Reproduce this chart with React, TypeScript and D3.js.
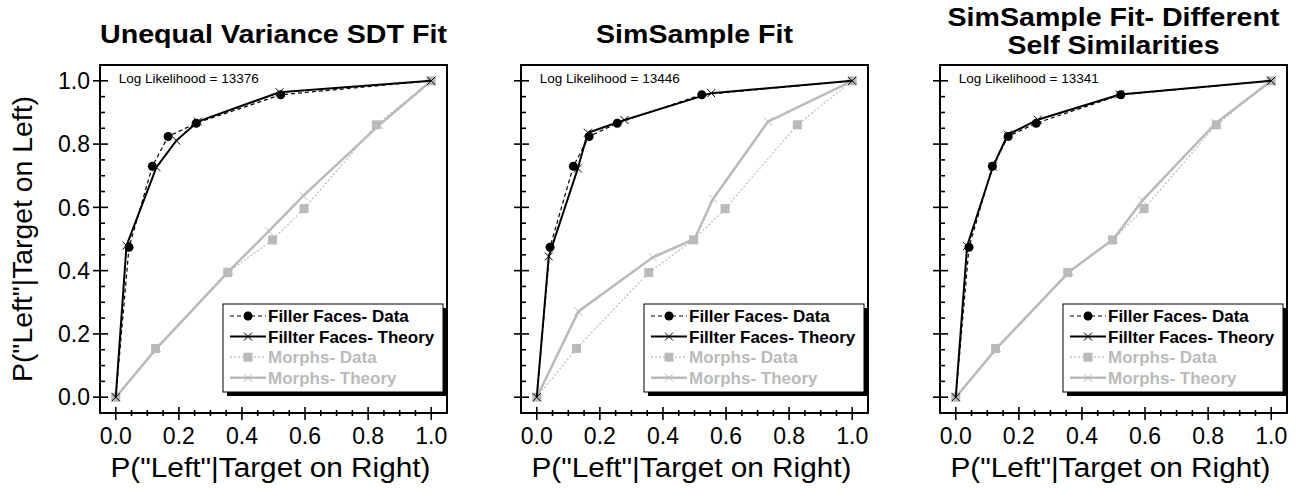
import React, { useEffect, useRef } from "react";
import * as d3 from "d3";

// observed data (same in every panel)
const fillerDataX = [0, 0.042, 0.116, 0.166, 0.255, 0.523, 1];
const fillerDataY = [0, 0.474, 0.73, 0.824, 0.866, 0.956, 1];
const morphDataX = [0, 0.126, 0.355, 0.497, 0.597, 0.826, 1];
const morphDataY = [0, 0.154, 0.394, 0.497, 0.596, 0.861, 1];

// model predictions, one set per panel
const uvFillerX = [0, 0.034, 0.129, 0.192, 0.26, 0.519, 1];
const uvFillerY = [0, 0.479, 0.727, 0.811, 0.871, 0.964, 1];
const uvMorphX = [0, 0.13, 0.36, 0.485, 0.595, 0.835, 1];
const uvMorphY = [0, 0.155, 0.4, 0.525, 0.637, 0.86, 1];

const ssFillerX = [0, 0.038, 0.13, 0.162, 0.278, 0.553, 1];
const ssFillerY = [0, 0.445, 0.723, 0.836, 0.876, 0.961, 1];
const ssMorphX = [0, 0.132, 0.368, 0.5, 0.559, 0.733, 1];
const ssMorphY = [0, 0.271, 0.442, 0.5, 0.627, 0.871, 1];

const sdFillerX = [0, 0.036, 0.118, 0.165, 0.26, 0.52, 1];
const sdFillerY = [0, 0.478, 0.729, 0.83, 0.877, 0.957, 1];
const sdMorphX = [0, 0.13, 0.36, 0.5, 0.592, 0.825, 1];
const sdMorphY = [0, 0.155, 0.397, 0.5, 0.622, 0.867, 1];

const titles = [["Unequal Variance SDT Fit"], ["SimSample Fit"], ["SimSample Fit- Different", "Self Similarities"]];
const logLik = [13376, 13446, 13341];
const legendLabels = ["Filler Faces- Data", "Fillter Faces- Theory", "Morphs- Data", "Morphs- Theory"];
const majorTicks = [0, 0.2, 0.4, 0.6, 0.8, 1.0];

const GRAY = "#bababa";
const FONT = "'Liberation Sans', Arial, Helvetica, sans-serif";

type Pt = [number, number];
const zip = (xs: number[], ys: number[]): Pt[] => xs.map((x, i) => [x, ys[i]]);

export default function App() {
  const ref = useRef<SVGSVGElement>(null);

  useEffect(() => {
    const svg = d3.select(ref.current);
    svg.selectAll("*").remove();

    const W = 347, H = 348, top = 65;
    const panels = [
      { left: 100, filler: zip(uvFillerX, uvFillerY), morph: zip(uvMorphX, uvMorphY), yLabels: true },
      { left: 521, filler: zip(ssFillerX, ssFillerY), morph: zip(ssMorphX, ssMorphY), yLabels: false },
      { left: 940, filler: zip(sdFillerX, sdFillerY), morph: zip(sdMorphX, sdMorphY), yLabels: false },
    ];
    const minor = d3.range(0, 1.0001, 0.05);

    const cross = "M-4,-4L4,4M-4,4L4,-4";

    panels.forEach((p, pi) => {
      const x = d3.scaleLinear().domain([-0.05, 1.05]).range([p.left, p.left + W]);
      const y = d3.scaleLinear().domain([-0.05, 1.05]).range([top + H, top]);
      const g = svg.append("g");
      const line = d3.line<Pt>().x(d => x(d[0])).y(d => y(d[1]));

      // title
      const t = titles[pi];
      const cx = p.left + W / 2;
      if (t.length === 1) {
        g.append("text").attr("x", cx).attr("y", 43).attr("text-anchor", "middle")
          .attr("font-family", FONT).attr("font-weight", "bold").attr("font-size", 26)
          .attr("textLength", pi === 0 ? 347 : 197).attr("lengthAdjust", "spacingAndGlyphs").text(t[0]);
      } else {
        g.append("text").attr("x", cx).attr("y", 26).attr("text-anchor", "middle")
          .attr("font-family", FONT).attr("font-weight", "bold").attr("font-size", 26)
          .attr("textLength", 332).attr("lengthAdjust", "spacingAndGlyphs").text(t[0]);
        g.append("text").attr("x", cx).attr("y", 54).attr("text-anchor", "middle")
          .attr("font-family", FONT).attr("font-weight", "bold").attr("font-size", 26)
          .attr("textLength", 212).attr("lengthAdjust", "spacingAndGlyphs").text(t[1]);
      }

      // frame
      g.append("rect").attr("x", p.left).attr("y", top).attr("width", W).attr("height", H)
        .attr("fill", "none").attr("stroke", "#000").attr("stroke-width", 2);

      // ticks
      minor.forEach(v => {
        const isMajor = majorTicks.some(m => Math.abs(m - v) < 1e-6);
        g.append("line").attr("x1", x(v)).attr("x2", x(v))
          .attr("y1", top + H - (isMajor ? 6 : 3)).attr("y2", top + H + (isMajor ? 7 : 3))
          .attr("stroke", "#000").attr("stroke-width", 1.6);
        g.append("line").attr("y1", y(v)).attr("y2", y(v))
          .attr("x1", p.left - (isMajor ? 7 : 0)).attr("x2", p.left + (isMajor ? 8 : 5))
          .attr("stroke", "#000").attr("stroke-width", 1.6);
      });
      majorTicks.forEach(v => {
        g.append("text").attr("x", x(v)).attr("y", top + H + 31).attr("text-anchor", "middle")
          .attr("font-family", FONT).attr("font-size", 23).text(v.toFixed(1));
        if (p.yLabels) {
          g.append("text").attr("x", p.left - 10).attr("y", y(v)).attr("dy", "0.36em")
            .attr("text-anchor", "end").attr("font-family", FONT).attr("font-size", 23).text(v.toFixed(1));
        }
      });

      // axis titles
      g.append("text").attr("x", cx - 3).attr("y", 477).attr("text-anchor", "middle")
        .attr("font-family", FONT).attr("font-size", 27)
        .attr("textLength", 320).attr("lengthAdjust", "spacingAndGlyphs")
        .text('P("Left"|Target on Right)');
      if (p.yLabels) {
        g.append("text").attr("transform", `translate(32,${top + H / 2}) rotate(-90)`)
          .attr("text-anchor", "middle").attr("font-family", FONT).attr("font-size", 27)
          .attr("textLength", 286).attr("lengthAdjust", "spacingAndGlyphs")
          .text('P("Left"|Target on Left)');
      }

      g.append("text").attr("x", x(0) + 3).attr("y", 83).attr("font-family", FONT).attr("font-size", 13.5)
        .text(`Log Likelihood = ${logLik[pi]}`);

      // morphs
      g.append("path").attr("d", line(p.morph)).attr("fill", "none").attr("stroke", GRAY).attr("stroke-width", 2.5);
      g.selectAll(".mx").data(p.morph).enter().append("path")
        .attr("transform", d => `translate(${x(d[0])},${y(d[1])})`).attr("d", cross)
        .attr("stroke", GRAY).attr("stroke-width", 1);
      const md = zip(morphDataX, morphDataY);
      g.append("path").attr("d", line(md)).attr("fill", "none").attr("stroke", GRAY)
        .attr("stroke-width", 1.2).attr("stroke-dasharray", "2,2");
      g.selectAll(".ms").data(md).enter().append("rect")
        .attr("x", d => x(d[0]) - 4.5).attr("y", d => y(d[1]) - 4.5).attr("width", 9).attr("height", 9)
        .attr("fill", GRAY);

      // filler faces
      const fd = zip(fillerDataX, fillerDataY);
      g.append("path").attr("d", line(fd)).attr("fill", "none").attr("stroke", "#000")
        .attr("stroke-width", 1.2).attr("stroke-dasharray", "4,3");
      g.append("path").attr("d", line(p.filler)).attr("fill", "none").attr("stroke", "#000").attr("stroke-width", 2);
      g.selectAll(".fx").data(p.filler).enter().append("path")
        .attr("transform", d => `translate(${x(d[0])},${y(d[1])})`).attr("d", cross)
        .attr("stroke", "#000").attr("stroke-width", 1);
      g.selectAll(".fc").data(fd.slice(1, -1)).enter().append("circle")
        .attr("cx", d => x(d[0])).attr("cy", d => y(d[1])).attr("r", 4.5).attr("fill", "#000");

      // legend
      const lw = 220, lh = 88;
      const lx = p.left + W - 4 - lw, ly = 304;
      g.append("rect").attr("x", lx + 4).attr("y", ly + 4).attr("width", lw).attr("height", lh).attr("fill", "#000");
      g.append("rect").attr("x", lx).attr("y", ly).attr("width", lw).attr("height", lh)
        .attr("fill", "#fff").attr("stroke", "#000").attr("stroke-width", 1);
      legendLabels.forEach((lab, i) => {
        const ry = ly + 12 + i * 20.6;
        const col = i < 2 ? "#000" : GRAY;
        const seg = g.append("line").attr("x1", lx + 7).attr("x2", lx + 43).attr("y1", ry).attr("y2", ry)
          .attr("stroke", col);
        if (i === 0) seg.attr("stroke-width", 1.2).attr("stroke-dasharray", "4,3");
        if (i === 1) seg.attr("stroke-width", 2);
        if (i === 2) seg.attr("stroke-width", 1.2).attr("stroke-dasharray", "2,2");
        if (i === 3) seg.attr("stroke-width", 2.5);
        const mx = lx + 25;
        if (i === 0) g.append("circle").attr("cx", mx).attr("cy", ry).attr("r", 4.5).attr("fill", "#000");
        if (i === 2) g.append("rect").attr("x", mx - 4.5).attr("y", ry - 4.5).attr("width", 9).attr("height", 9).attr("fill", GRAY);
        if (i === 1 || i === 3) g.append("path").attr("transform", `translate(${mx},${ry})`).attr("d", cross)
          .attr("stroke", col).attr("stroke-width", 1);
        g.append("text").attr("x", lx + 45).attr("y", ry).attr("dy", "0.36em")
          .attr("font-family", FONT).attr("font-weight", "bold").attr("font-size", 17)
          .attr("fill", col).text(lab);
      });
    });
  }, []);

  return (
    <svg ref={ref} width={1299} height={489}
      style={{ position: "absolute", left: 0, top: 0, background: "#fff" }} />
  );
}
